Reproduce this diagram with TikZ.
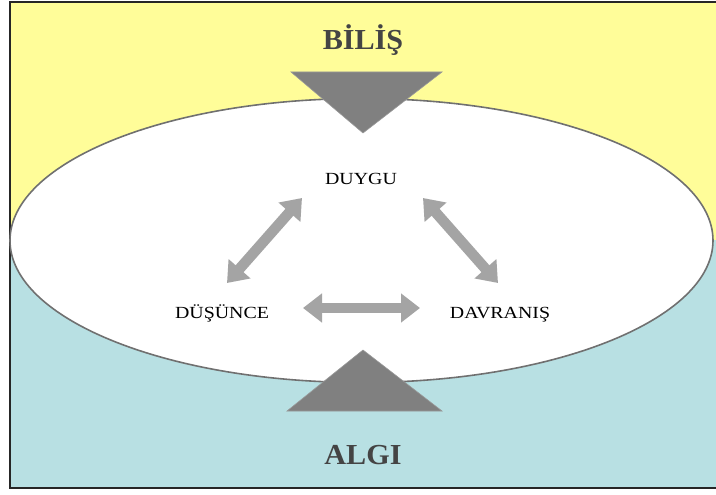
\documentclass[tikz,border=0pt]{standalone}
\usepackage{fontspec}
\setmainfont{Liberation Serif}
\usetikzlibrary{arrows.meta}
\definecolor{skyyellow}{RGB}{255,253,153}
\definecolor{seablue}{RGB}{184,224,227}
\definecolor{wedgegray}{RGB}{128,128,128}
\definecolor{linkgray}{RGB}{164,164,164}
\definecolor{rimgray}{RGB}{112,112,112}
\definecolor{titlegray}{RGB}{68,68,68}
\tikzset{
  title/.style={anchor=base, text=titlegray, font=\fontsize{29}{31}\selectfont\bfseries, inner sep=0pt},
  concept/.style={anchor=base, text=black, font=\fontsize{17}{19}\selectfont, inner sep=0pt},
  link/.style={draw=linkgray, line width=10.5pt,
    {Triangle[length=19pt,width=28pt]}-{Triangle[length=19pt,width=28pt]}},
  wedge/.style={fill=wedgegray, draw=wedgegray!80, line width=0.6pt}
}
\begin{document}
\begin{tikzpicture}[x=1pt,y=-1pt]
\useasboundingbox (0,0) rectangle (716,495);
% two halves of the background
\fill[skyyellow] (10,2) rectangle (720,240);
\fill[seablue] (10,240) rectangle (720,488);
\draw[black!85, line width=1.3pt] (720,2) -- (10,2) -- (10,488) -- (720,488);
% central ellipse
\draw[rimgray, fill=white, line width=1.6pt] (361.5,240.5) ellipse [x radius=351.5, y radius=142];
% wedges pressing on the ellipse
\coordinate (tl) at (291,72);
\coordinate (tr) at (442,72);
\coordinate (tp) at (363,133);
\coordinate (bl) at (287,411);
\coordinate (br) at (442,411);
\coordinate (bp) at (363,350);
\path[wedge] (tl) -- (tr) -- (tp) -- cycle;
\path[wedge] (bl) -- (br) -- (bp) -- cycle;
% titles
\node[title] (bilis) at (363,50) {\scalebox{1.04}[1]{BİLİŞ}};
\node[title] (algi) at (363,464) {\scalebox{1.04}[1]{ALGI}};
% concepts
\node[concept] (duygu) at (361,184) {\scalebox{1.17}[1]{DUYGU}};
\node[concept] (dusunce) at (222,318) {\scalebox{1.17}[1]{DÜŞÜNCE}};
\node[concept] (davranis) at (500,318) {\scalebox{1.17}[1]{DAVRANIŞ}};
% link end points
\coordinate (l1) at (227,283);
\coordinate (l2) at (302,198);
\coordinate (r1) at (423,198);
\coordinate (r2) at (498,283);
\coordinate (h1) at (303,308);
\coordinate (h2) at (420,308);
\draw[link] (l1) -- (l2);
\draw[link] (r1) -- (r2);
\draw[link] (h1) -- (h2);
\end{tikzpicture}
\end{document}
